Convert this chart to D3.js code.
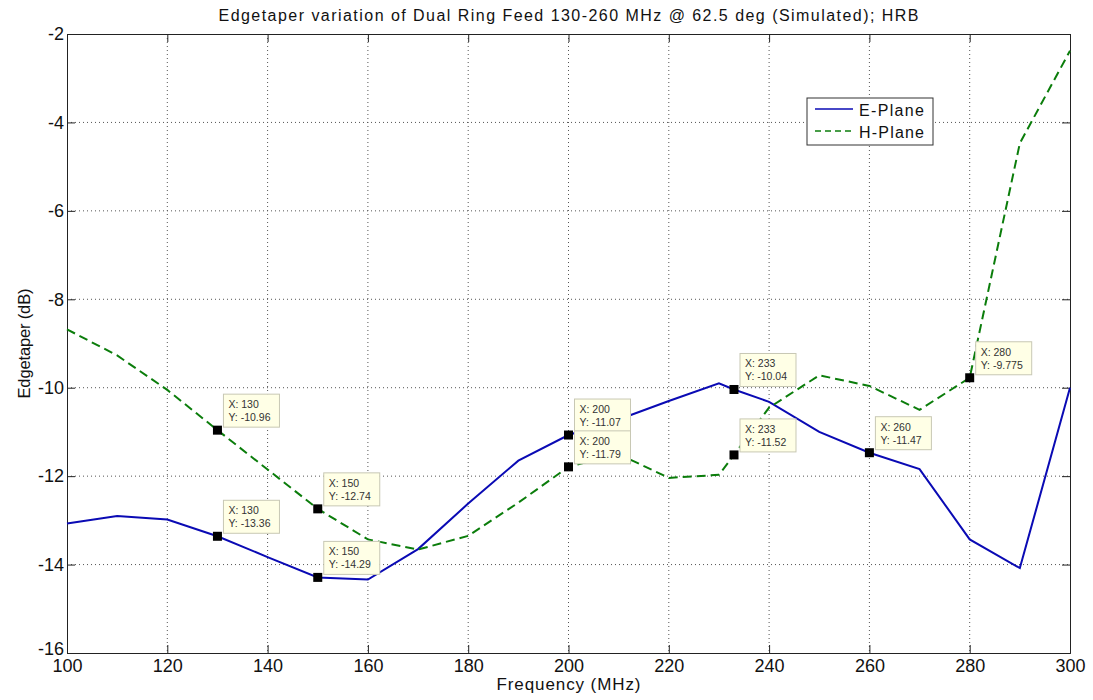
<!DOCTYPE html>
<html>
<head>
<meta charset="utf-8">
<script src="https://cdn.jsdelivr.net/npm/d3@7"></script>
<style>
  body { margin: 0; background: #fff; }
  svg { display: block; font-family: 'Liberation Sans', Arial, sans-serif; }
</style>
</head>
<body>
<div id="chart"></div>
<script>
const title = 'Edgetaper variation of Dual Ring Feed 130-260 MHz @ 62.5 deg (Simulated); HRB'

const freqs = [100, 110, 120, 130, 140, 150, 160, 170, 180, 190, 200, 210, 220, 230, 233, 240, 250, 260, 270, 280, 290, 300]
const ePlane = [-13.07, -12.9, -12.98, -13.36, -13.83, -14.29, -14.34, -13.65, -12.62, -11.65, -11.07, -10.72, -10.3, -9.9, -10.04, -10.32, -11.0, -11.47, -11.84, -13.43, -14.08, -10.0]
const hPlane = [-8.68, -9.27, -10.05, -10.96, -11.85, -12.74, -13.43, -13.66, -13.35, -12.6, -11.79, -11.5, -12.04, -11.97, -11.52, -10.45, -9.72, -9.96, -10.5, -9.775, -4.47, -2.38]

const xTicks = [100, 120, 140, 160, 180, 200, 220, 240, 260, 280, 300]
const yTicks = [-16, -14, -12, -10, -8, -6, -4, -2]

// data cursor tips: [series, frequency, label Y]
const tips = [
  ['h', 130, '-10.96'],
  ['e', 130, '-13.36'],
  ['h', 150, '-12.74'],
  ['e', 150, '-14.29'],
  ['e', 200, '-11.07'],
  ['h', 200, '-11.79'],
  ['e', 233, '-10.04'],
  ['h', 233, '-11.52'],
  ['e', 260, '-11.47'],
  ['h', 280, '-9.775']
]

const W = 1093, H = 700
const margin = { top: 34, right: 23, bottom: 47, left: 67 }
const iw = W - margin.left - margin.right
const ih = H - margin.top - margin.bottom

const svg = d3.select('#chart').append('svg')
  .attr('width', W)
  .attr('height', H)

const x = d3.scaleLinear().domain([100, 300]).range([0, iw])
const y = d3.scaleLinear().domain([-16, -2]).range([ih, 0])

const g = svg.append('g').attr('transform', `translate(${margin.left},${margin.top})`)

/* grid */
g.append('g').selectAll('line')
  .data(xTicks.slice(1, -1))
  .join('line')
  .attr('x1', d => x(d)).attr('x2', d => x(d))
  .attr('y1', 0).attr('y2', ih)
  .attr('stroke', '#555').attr('stroke-width', 1)
  .attr('stroke-dasharray', '1 3')
g.append('g').selectAll('line')
  .data(yTicks.slice(1, -1))
  .join('line')
  .attr('x1', 0).attr('x2', iw)
  .attr('y1', d => y(d)).attr('y2', d => y(d))
  .attr('stroke', '#555').attr('stroke-width', 1)
  .attr('stroke-dasharray', '1 3')

/* axes, ticks inward */
const xAxis = g.append('g').attr('transform', `translate(0,${ih})`)
  .call(d3.axisBottom(x).tickValues(xTicks).tickFormat(d3.format('d')).tickSize(-8).tickPadding(6))
const yAxis = g.append('g')
  .call(d3.axisLeft(y).tickValues(yTicks).tickFormat(d => String(d)).tickSize(-8).tickPadding(3))
g.append('g')
  .call(d3.axisTop(x).tickValues(xTicks).tickFormat('').tickSize(-8))
g.append('g').attr('transform', `translate(${iw},0)`)
  .call(d3.axisRight(y).tickValues(yTicks).tickFormat('').tickSize(-8))

g.selectAll('.domain').attr('stroke', '#222').attr('stroke-width', 1)
g.selectAll('.tick line').attr('stroke', '#222')
g.selectAll('.tick text').attr('fill', '#111').attr('font-size', 18)
  .attr('font-family', "'Liberation Sans', Arial, sans-serif")
// lowest y label sits a bit higher, clear of the first x label
yAxis.selectAll('.tick text').filter(d => d === -16).attr('dy', '0.1em')

/* series */
const line = d3.line()
  .x(d => x(d[0]))
  .y(d => y(d[1]))

const ePts = freqs.map((f, i) => [f, ePlane[i]])
const hPts = freqs.map((f, i) => [f, hPlane[i]])

g.append('path')
  .datum(ePts)
  .attr('d', line)
  .attr('fill', 'none')
  .attr('stroke', '#0a0ab4')
  .attr('stroke-width', 2)

g.append('path')
  .datum(hPts)
  .attr('d', line)
  .attr('fill', 'none')
  .attr('stroke', '#0b7d0b')
  .attr('stroke-width', 2)
  .attr('stroke-dasharray', '9 5')

/* data tips */
const tipG = g.append('g')
tips.forEach(([s, f, label]) => {
  const vals = s === 'e' ? ePlane : hPlane
  const v = vals[freqs.indexOf(f)]
  const px = x(f), py = y(v)
  const t = tipG.append('g')
  t.append('rect')
    .attr('x', px + 6).attr('y', py - 36)
    .attr('width', 56).attr('height', 33)
    .attr('fill', '#ffffe6')
    .attr('stroke', '#c8c8b4').attr('stroke-width', 1)
  t.append('text')
    .attr('x', px + 11).attr('y', py - 22)
    .attr('font-size', 10.5).attr('fill', '#333')
    .text(`X: ${f}`)
  t.append('text')
    .attr('x', px + 11).attr('y', py - 9)
    .attr('font-size', 10.5).attr('fill', '#333')
    .text(`Y: ${label}`)
  t.append('rect')
    .attr('x', px - 4.5).attr('y', py - 4.5)
    .attr('width', 9).attr('height', 9)
    .attr('fill', '#000')
})

/* legend */
const lg = svg.append('g').attr('transform', 'translate(807,98)')
lg.append('rect')
  .attr('width', 126).attr('height', 47)
  .attr('fill', '#fff').attr('stroke', '#333').attr('stroke-width', 1)
const legendItems = [
  { name: 'E-Plane', color: '#0a0ab4', dash: null },
  { name: 'H-Plane', color: '#0b7d0b', dash: '6 4' }
]
legendItems.forEach((it, i) => {
  const yy = 11 + i * 22
  lg.append('line')
    .attr('x1', 8).attr('x2', 46)
    .attr('y1', yy).attr('y2', yy)
    .attr('stroke', it.color).attr('stroke-width', 1.5)
    .attr('stroke-dasharray', it.dash)
  lg.append('text')
    .attr('x', 52).attr('y', yy + 7)
    .attr('font-size', 16).attr('fill', '#111')
    .attr('textLength', 65).attr('lengthAdjust', 'spacing')
    .text(it.name)
})

/* labels */
svg.append('text')
  .attr('x', margin.left + iw / 2).attr('y', 21)
  .attr('text-anchor', 'middle')
  .attr('font-size', 16).attr('fill', '#111')
  .attr('textLength', 700).attr('lengthAdjust', 'spacing')
  .text(title)

svg.append('text')
  .attr('x', margin.left + iw / 2).attr('y', 690)
  .attr('text-anchor', 'middle')
  .attr('font-size', 17).attr('fill', '#111')
  .attr('textLength', 144).attr('lengthAdjust', 'spacing')
  .text('Frequency (MHz)')

svg.append('text')
  .attr('transform', `translate(30,${margin.top + ih / 2}) rotate(-90)`)
  .attr('text-anchor', 'middle')
  .attr('font-size', 16.5).attr('fill', '#111')
  .attr('textLength', 110).attr('lengthAdjust', 'spacing')
  .text('Edgetaper (dB)')
</script>
</body>
</html>
